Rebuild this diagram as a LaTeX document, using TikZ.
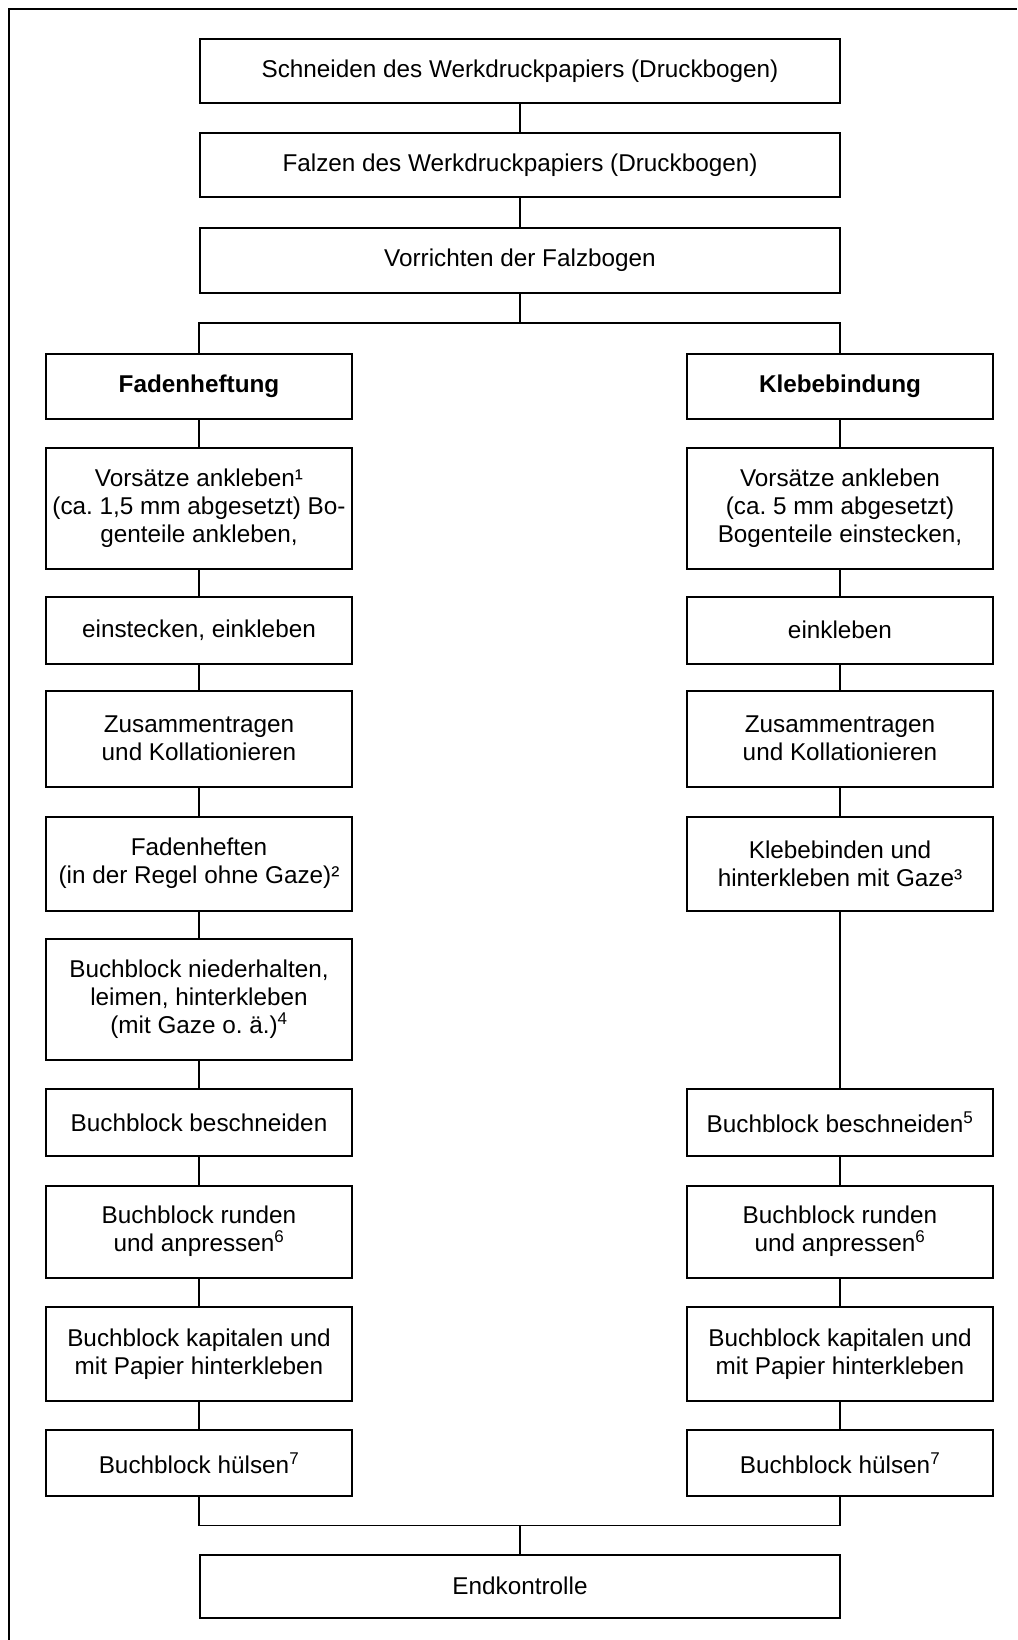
\documentclass[tikz,border=0pt]{standalone}
\usepackage{fontspec}
\setmainfont{Liberation Sans}
\frenchspacing

\begin{document}
\begin{tikzpicture}[x=1pt, y=-1pt,
    stage/.style = {draw, line width=2pt, minimum width=306pt, inner sep=0pt,
        align=center, font=\fontsize{24.3}{28}\selectfont},
    widestage/.style = {stage, minimum width=640pt},
    link/.style = {line width=1.8pt}]
    \useasboundingbox (0,0) rectangle (1017,1640);
    \draw[line width=2pt] (9,1640) -- (9,9) -- (1017,9);

    \node[widestage, minimum height=64pt] (S) at (520, 71.5) {Schneiden des Werkdruckpapiers (Druckbogen)};
    \node[widestage, minimum height=64pt] (F) at (520, 165.5) {Falzen des Werkdruckpapiers (Druckbogen)};
    \node[widestage, minimum height=65pt] (V) at (520, 260.5) {Vorrichten der Falzbogen};

    \coordinate (split) at (520, 323);

    % Fadenheftung
    \node[stage, minimum height=65pt] (L1) at (199, 386) {\bfseries Fadenheftung};
    \node[stage, minimum height=121pt] (L2) at (199, 508.5) {Vorsätze ankleben¹\\(ca. 1,5 mm abgesetzt) Bo-\\genteile ankleben,};
    \node[stage, minimum height=67pt] (L3) at (199, 630) {einstecken, einkleben};
    \node[stage, minimum height=96pt] (L4) at (199, 738.5) {Zusammentragen\\und Kollationieren};
    \node[stage, minimum height=94pt] (L5) at (199, 863.5) {Fadenheften\\(in der Regel ohne Gaze)²};
    \node[stage, minimum height=121pt] (L6) at (199, 999) {Buchblock niederhalten,\\leimen, hinterkleben\\(mit Gaze o. ä.)\textsuperscript{4}};
    \node[stage, minimum height=67pt] (L7) at (199, 1122.5) {Buchblock beschneiden};
    \node[stage, minimum height=92pt] (L8) at (199, 1231.5) {Buchblock runden\\und anpressen\textsuperscript{6}};
    \node[stage, minimum height=94pt] (L9) at (199, 1354) {Buchblock kapitalen und\\mit Papier hinterkleben};
    \node[stage, minimum height=66pt] (L10) at (199, 1463) {Buchblock hülsen\textsuperscript{7}};

    % Klebebindung
    \node[stage, minimum height=65pt] (R1) at (840, 386) {\bfseries Klebebindung};
    \node[stage, minimum height=121pt] (R2) at (840, 508.5) {Vorsätze ankleben\\(ca. 5 mm abgesetzt)\\Bogenteile einstecken,};
    \node[stage, minimum height=67pt] (R3) at (840, 630) {einkleben};
    \node[stage, minimum height=96pt] (R4) at (840, 738.5) {Zusammentragen\\und Kollationieren};
    \node[stage, minimum height=94pt] (R5) at (840, 863.5) {Klebebinden und\\hinterkleben mit Gaze³};
    \node[stage, minimum height=67pt] (R7) at (840, 1122.5) {Buchblock beschneiden\textsuperscript{5}};
    \node[stage, minimum height=92pt] (R8) at (840, 1231.5) {Buchblock runden\\und anpressen\textsuperscript{6}};
    \node[stage, minimum height=94pt] (R9) at (840, 1354) {Buchblock kapitalen und\\mit Papier hinterkleben};
    \node[stage, minimum height=66pt] (R10) at (840, 1463) {Buchblock hülsen\textsuperscript{7}};

    \coordinate (join) at (520, 1525.5);
    \node[widestage, minimum height=63pt] (E) at (520, 1586) {Endkontrolle};

    \draw[link] (S) -- (F);
    \draw[link] (F) -- (V);
    \draw[link] (V) -- (split);
    \draw[link] (L1) |- (split) -| (R1);
    \foreach \a/\b in {L1/L2, L2/L3, L3/L4, L4/L5, L5/L6, L6/L7, L7/L8, L8/L9, L9/L10,
                       R1/R2, R2/R3, R3/R4, R4/R5, R5/R7, R7/R8, R8/R9, R9/R10}
        \draw[link] (\a) -- (\b);
    \draw[link] (L10) |- (join) -| (R10);
    \draw[link] (join) -- (E);
\end{tikzpicture}
\end{document}
